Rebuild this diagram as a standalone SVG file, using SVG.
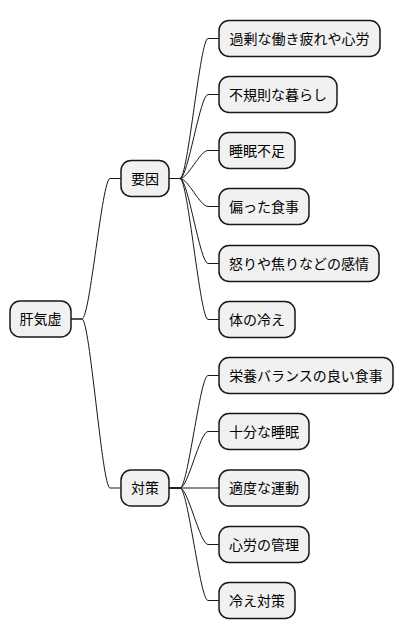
<svg xmlns="http://www.w3.org/2000/svg" width="404" height="640" viewBox="0 0 404 640">
<style>
.n rect{fill:#F1F1F1;stroke:#181818;stroke-width:1.5}
.n text{font-family:"Noto Sans CJK JP","Noto Sans CJK SC",sans-serif;font-size:14px;fill:#000000;text-anchor:middle}
#connectors path{fill:none;stroke:#181818;stroke-width:1}
</style>
<rect width="404" height="640" fill="#FFFFFF"/>
<g id="connectors">
<path d="M71,319 L82,319 C90,319 102,178.5 110,178.5 L121,178.5"/>
<path d="M71,319 L82,319 C90,319 102,488 110,488 L121,488"/>
<path d="M169,178.5 L180,178.5 C188,178.5 200,38.5 208,38.5 L219,38.5"/>
<path d="M169,178.5 L180,178.5 C188,178.5 200,94.5 208,94.5 L219,94.5"/>
<path d="M169,178.5 L180,178.5 C188,178.5 200,150.5 208,150.5 L219,150.5"/>
<path d="M169,178.5 L180,178.5 C188,178.5 200,206.5 208,206.5 L219,206.5"/>
<path d="M169,178.5 L180,178.5 C188,178.5 200,263.5 208,263.5 L219,263.5"/>
<path d="M169,178.5 L180,178.5 C188,178.5 200,319.5 208,319.5 L219,319.5"/>
<path d="M169,488 L180,488 C188,488 200,375.5 208,375.5 L219,375.5"/>
<path d="M169,488 L180,488 C188,488 200,431.5 208,431.5 L219,431.5"/>
<path d="M169,488 L219,488"/>
<path d="M169,488 L180,488 C188,488 200,544.5 208,544.5 L219,544.5"/>
<path d="M169,488 L180,488 C188,488 200,600.5 208,600.5 L219,600.5"/>
</g>
<g id="root" class="n"><rect x="10" y="301" width="61" height="36" rx="10"/><text x="40.5" y="324">肝気虚</text></g>
<g id="youin" class="n"><rect x="121" y="160.5" width="48" height="36" rx="10"/><text x="145" y="183.5">要因</text></g>
<g id="taisaku" class="n"><rect x="121" y="470" width="48" height="36" rx="10"/><text x="145" y="493">対策</text></g>
<g id="l1" class="n"><rect x="219" y="20.5" width="161" height="36" rx="10"/><text x="299.5" y="43.5">過剰な働き疲れや心労</text></g>
<g id="l2" class="n"><rect x="219" y="76.5" width="118" height="36" rx="10"/><text x="278" y="99.5">不規則な暮らし</text></g>
<g id="l3" class="n"><rect x="219" y="132.5" width="76" height="36" rx="10"/><text x="257" y="155.5">睡眠不足</text></g>
<g id="l4" class="n"><rect x="219" y="188.5" width="90" height="36" rx="10"/><text x="264" y="211.5">偏った食事</text></g>
<g id="l5" class="n"><rect x="219" y="245.5" width="160" height="36" rx="10"/><text x="299" y="268.5">怒りや焦りなどの感情</text></g>
<g id="l6" class="n"><rect x="219" y="301.5" width="76" height="36" rx="10"/><text x="257" y="324.5">体の冷え</text></g>
<g id="l7" class="n"><rect x="219" y="357.5" width="174" height="36" rx="10"/><text x="306" y="380.5">栄養バランスの良い食事</text></g>
<g id="l8" class="n"><rect x="219" y="413.5" width="90" height="36" rx="10"/><text x="264" y="436.5">十分な睡眠</text></g>
<g id="l9" class="n"><rect x="219" y="470" width="90" height="36" rx="10"/><text x="264" y="493">適度な運動</text></g>
<g id="l10" class="n"><rect x="219" y="526.5" width="90" height="36" rx="10"/><text x="264" y="549.5">心労の管理</text></g>
<g id="l11" class="n"><rect x="219" y="582.5" width="76" height="36" rx="10"/><text x="257" y="605.5">冷え対策</text></g>
</svg>
